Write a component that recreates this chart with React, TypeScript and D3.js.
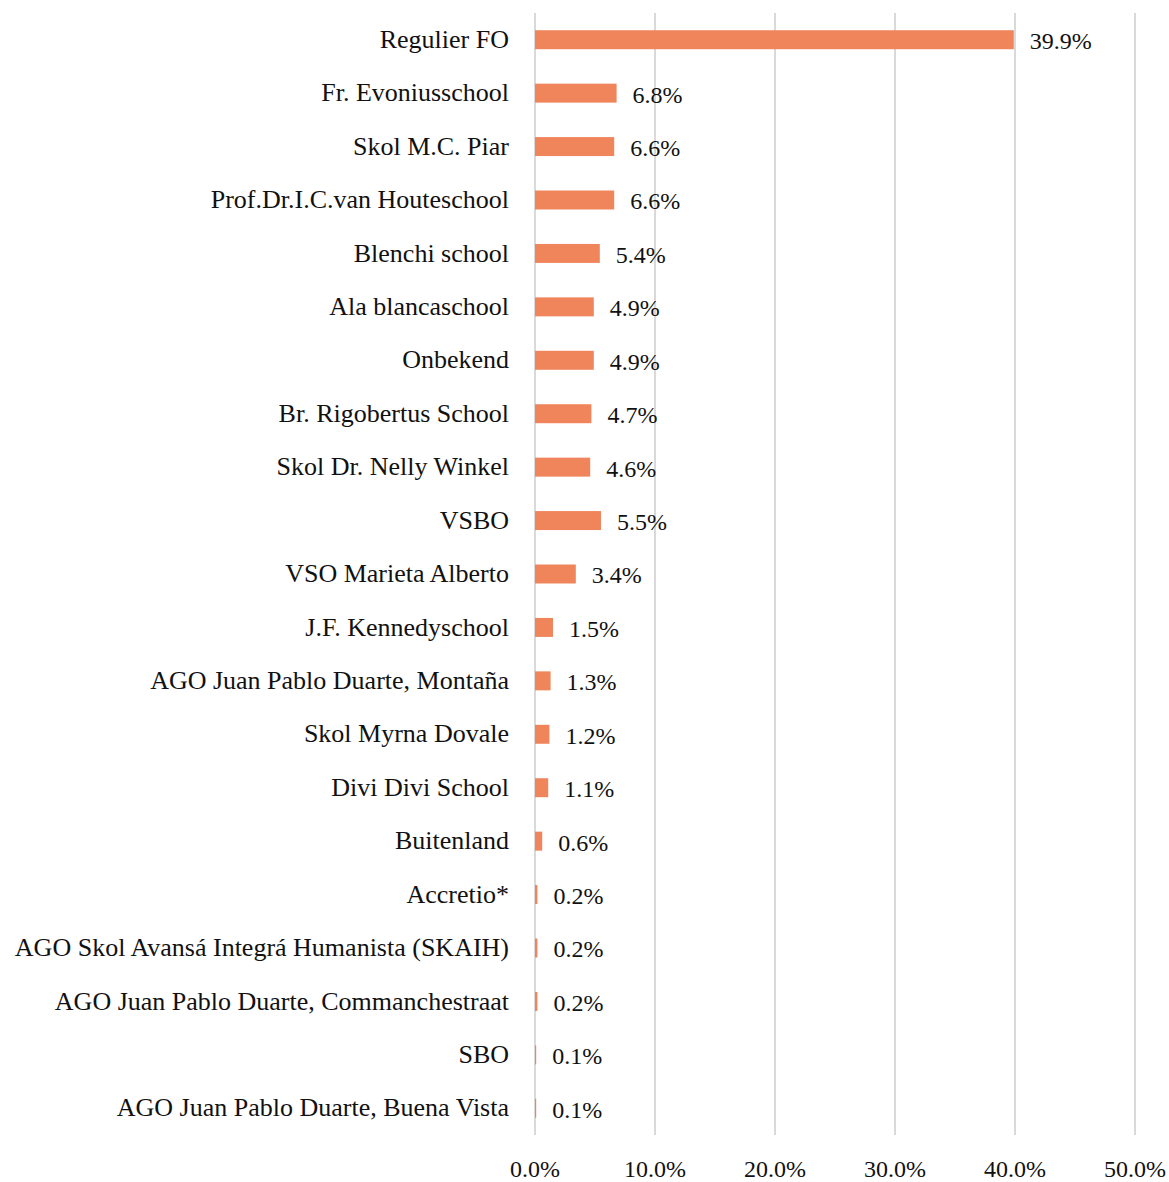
import { useRef, useEffect } from 'react';
import * as d3 from 'd3';

const schools = [
  'Regulier FO',
  'Fr. Evoniusschool',
  'Skol M.C. Piar',
  'Prof.Dr.I.C.van Houteschool',
  'Blenchi school',
  'Ala blancaschool',
  'Onbekend',
  'Br. Rigobertus School',
  'Skol Dr. Nelly Winkel',
  'VSBO',
  'VSO Marieta Alberto',
  'J.F. Kennedyschool',
  'AGO Juan Pablo Duarte, Montaña',
  'Skol Myrna Dovale',
  'Divi Divi School',
  'Buitenland',
  'Accretio*',
  'AGO Skol Avansá Integrá Humanista (SKAIH)',
  'AGO Juan Pablo Duarte, Commanchestraat',
  'SBO',
  'AGO Juan Pablo Duarte, Buena Vista',
];
const shares = [39.9, 6.8, 6.6, 6.6, 5.4, 4.9, 4.9, 4.7, 4.6, 5.5, 3.4, 1.5, 1.3, 1.2, 1.1, 0.6, 0.2, 0.2, 0.2, 0.1, 0.1];
const ticks = [0, 10, 20, 30, 40, 50];

export default function App() {
  const svgRef = useRef<SVGSVGElement>(null);

  useEffect(() => {
    const w = 1169;
    const h = 1182;
    const font = '"Palatino Linotype", "Book Antiqua", Palatino, "Liberation Serif", serif';
    const svg = d3.select(svgRef.current).attr('width', w).attr('height', h);
    svg.selectAll('*').remove();

    const x = d3.scaleLinear().domain([0, 50]).range([535, 1135]);
    const y = d3.scaleBand().domain(schools).range([13, 1135]).paddingInner(0.645).paddingOuter(0.3225);

    // gridlines
    svg
      .append('g')
      .selectAll('line')
      .data(ticks)
      .enter()
      .append('line')
      .attr('x1', (d) => x(d))
      .attr('x2', (d) => x(d))
      .attr('y1', 13)
      .attr('y2', 1135)
      .attr('stroke', '#d9d9d9')
      .attr('stroke-width', 2);

    // bars
    svg
      .append('g')
      .selectAll('rect')
      .data(shares)
      .enter()
      .append('rect')
      .attr('x', x(0))
      .attr('y', (d, i) => y(schools[i]) as number)
      .attr('width', (d) => x(d) - x(0))
      .attr('height', y.bandwidth())
      .attr('fill', '#f0845a');

    // category labels
    svg
      .append('g')
      .selectAll('text')
      .data(schools)
      .enter()
      .append('text')
      .attr('x', 509)
      .attr('y', (d) => (y(d) as number) + y.bandwidth() / 2 - 1)
      .attr('dy', '0.35em')
      .attr('text-anchor', 'end')
      .attr('font-family', font)
      .attr('font-size', 26)
      .attr('fill', '#111')
      .text((d) => d);

    // value labels
    svg
      .append('g')
      .selectAll('text')
      .data(shares)
      .enter()
      .append('text')
      .attr('x', (d) => x(d) + 16)
      .attr('y', (d, i) => (y(schools[i]) as number) + y.bandwidth() / 2 + 1)
      .attr('dy', '0.35em')
      .attr('font-family', font)
      .attr('font-size', 24)
      .attr('fill', '#111')
      .text((d) => d.toFixed(1) + '%');

    // x axis tick labels
    svg
      .append('g')
      .selectAll('text')
      .data(ticks)
      .enter()
      .append('text')
      .attr('x', (d) => x(d))
      .attr('y', 1169)
      .attr('dy', '0.35em')
      .attr('text-anchor', 'middle')
      .attr('font-family', font)
      .attr('font-size', 24)
      .attr('fill', '#111')
      .text((d) => d.toFixed(1) + '%');
  }, []);

  return <svg ref={svgRef} style={{ position: 'absolute', left: 0, top: 0 }}></svg>;
}
